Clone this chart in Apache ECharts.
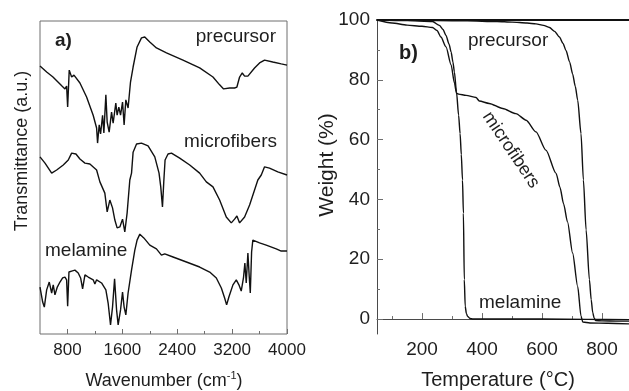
<!DOCTYPE html>
<html>
<head>
<meta charset="utf-8">
<script src="https://cdn.jsdelivr.net/npm/echarts@6/dist/echarts.min.js"></script>
<style>
  html, body { margin: 0; padding: 0; background: #fff; }
  #chart { width: 629px; height: 391px; }
</style>
</head>
<body>
<div id="chart"></div>
<script>
// ---- a) FTIR spectra, transmittance in arbitrary units (0-100 of the frame) ----
const precursorWn = [400, 497, 589, 720, 764, 788, 803, 826, 861, 895, 982, 1079, 1175, 1225, 1239, 1263, 1283, 1312, 1331, 1360, 1379, 1408, 1443, 1466, 1505, 1524, 1549, 1574, 1603, 1626, 1651, 1684, 1719, 1757, 1815, 1879, 1927, 2000, 2097, 2243, 2484, 2727, 2921, 3018, 3076, 3164, 3236, 3270, 3309, 3348, 3382, 3430, 3527, 3600, 3673, 3793, 3916, 4000];
const precursorT = [85.6, 83.7, 82.1, 79.2, 78.3, 79.2, 72.5, 84.3, 82.1, 82.7, 80.2, 75.7, 69.9, 65.8, 61.0, 66.8, 63.9, 69.9, 64.2, 76.4, 67.7, 64.5, 70.9, 67.4, 73.8, 69.9, 72.5, 69.9, 74.1, 66.8, 74.8, 72.2, 80.5, 85.3, 91.7, 94.6, 94.9, 93.3, 91.4, 89.8, 87.5, 85.0, 82.1, 79.6, 78.3, 78.6, 78.6, 78.9, 82.1, 83.4, 82.4, 82.4, 85.0, 86.6, 87.5, 86.9, 86.3, 85.9];

const microWn = [400, 473, 570, 643, 739, 812, 861, 924, 982, 1055, 1127, 1225, 1273, 1297, 1345, 1379, 1418, 1457, 1491, 1524, 1564, 1603, 1636, 1670, 1709, 1734, 1757, 1807, 1879, 1975, 2073, 2135, 2160, 2185, 2204, 2223, 2266, 2316, 2436, 2582, 2727, 2824, 2921, 3018, 3115, 3188, 3236, 3270, 3309, 3382, 3455, 3527, 3575, 3625, 3673, 3745, 3866, 4000];
const microT = [56.6, 54.6, 51.4, 52.4, 54.0, 55.6, 57.8, 57.5, 55.9, 54.6, 54.3, 52.4, 48.6, 49.2, 45.0, 39.0, 42.8, 40.3, 36.4, 33.9, 34.2, 36.7, 32.6, 38.7, 49.2, 51.4, 58.1, 60.7, 61.0, 60.1, 56.6, 51.4, 47.0, 40.6, 48.6, 55.6, 57.5, 57.8, 56.2, 54.0, 51.4, 48.6, 47.0, 42.8, 37.4, 35.5, 36.7, 37.7, 35.5, 37.4, 41.2, 46.0, 49.2, 50.8, 53.4, 53.0, 51.8, 50.8];

const melamineWn = [400, 439, 463, 497, 535, 570, 593, 618, 652, 691, 730, 764, 788, 803, 822, 861, 909, 957, 992, 1021, 1055, 1103, 1175, 1200, 1225, 1297, 1360, 1393, 1428, 1457, 1487, 1516, 1539, 1574, 1603, 1626, 1651, 1684, 1734, 1782, 1815, 1855, 1913, 2000, 2097, 2170, 2218, 2339, 2534, 2727, 2873, 2970, 3043, 3091, 3120, 3153, 3212, 3261, 3299, 3333, 3367, 3386, 3406, 3430, 3450, 3465, 3484, 3502, 3527, 3600, 3697, 3843, 3916, 4000];
const melamineT = [15.0, 10.2, 8.6, 14.1, 16.6, 13.1, 15.7, 12.5, 15.0, 16.6, 17.9, 18.2, 17.3, 8.9, 19.8, 20.1, 20.4, 19.5, 17.9, 14.4, 18.9, 18.2, 17.3, 16.0, 17.3, 16.3, 14.1, 9.9, 2.9, 8.6, 17.6, 7.7, 2.9, 7.7, 13.4, 8.6, 6.1, 13.1, 20.4, 26.8, 30.0, 31.9, 30.7, 28.4, 27.2, 25.2, 25.6, 24.6, 23.0, 21.4, 19.8, 17.9, 14.7, 11.5, 9.3, 11.8, 15.7, 17.3, 15.7, 13.7, 18.2, 22.7, 16.3, 25.9, 18.2, 13.1, 26.2, 30.0, 30.0, 29.1, 28.4, 27.2, 26.5, 26.5];

const ftirMajorTicks = [800, 1600, 2400, 3200, 4000];
const ftirMinorTicks = [1200, 2000, 2800, 3600];

// ---- b) TGA, weight (%) vs temperature (°C) ----
const tgaPrecursorTemp = [50, 150, 250, 350, 450, 500, 550, 580, 605, 625, 642, 658, 670, 680, 692, 702, 711, 719, 730, 738, 747, 758, 764, 769, 774, 779, 800, 850, 890];
const tgaPrecursorW = [100, 99.9, 99.8, 99.7, 99.5, 99.3, 99.0, 98.7, 98.2, 97.5, 96.2, 94.3, 92.2, 89.8, 86.0, 82.0, 77.8, 73.2, 62.0, 46.5, 29.8, 13.2, 6.5, 2.2, 0.3, -0.5, -0.6, -0.7, -0.7];

const tgaMicroTemp = [50, 100, 150, 200, 235, 250, 263, 280, 297, 308, 315, 322, 347, 380, 391, 424, 469, 513, 547, 580, 613, 647, 660, 672, 685, 702, 719, 730, 736, 760, 820, 890];
const tgaMicroW = [100, 99.0, 98.3, 97.9, 97.5, 96.5, 94.3, 91.0, 85.0, 79.0, 75.5, 75.2, 74.8, 74.1, 72.9, 72.1, 70.4, 68.7, 66.5, 62.6, 56.5, 48.7, 44.0, 38.5, 32.5, 22.1, 10.9, 1.0, -1.0, -1.3, -1.4, -1.6];

const tgaMelamineTemp = [50, 150, 235, 258, 270, 280, 290, 297, 303, 308, 315, 322, 327, 331, 335, 338, 341, 344, 348, 352, 360, 370, 450, 600, 750, 890];
const tgaMelamineW = [100, 99.8, 99.5, 98.2, 96.8, 94.8, 92.0, 89.3, 86.0, 82.6, 75.9, 68.2, 62.0, 55.0, 46.5, 35.4, 13.2, 4.3, 1.8, 0.9, 0.2, 0, 0, 0, -0.1, -0.2];

const tgaMajorTicksX = [200, 400, 600, 800];
const tgaMinorTicksX = [100, 300, 500, 700];
const tgaMajorTicksY = [0, 20, 40, 60, 80, 100];
const tgaMinorTicksY = [10, 30, 50, 70, 90];

const FONT = '"Liberation Sans", Arial, sans-serif';
const INK = '#1e1e1e';
const FRAME = '#6e6e6e';

const zip = (xs, ys) => xs.map((x, i) => [x, ys[i]]);

const chart = echarts.init(document.getElementById('chart'));

function tickAxis(gridIndex, position, min, max, values, len, withLabels, fontSize, margin) {
  return {
    type: 'value',
    gridIndex,
    position,
    min,
    max,
    axisLine: { show: false },
    splitLine: { show: false },
    axisTick: {
      show: true,
      inside: true,
      length: len,
      customValues: values,
      lineStyle: { color: FRAME, width: 1 }
    },
    axisLabel: withLabels ? {
      show: true,
      customValues: values,
      formatter: v => String(v),
      fontSize,
      fontFamily: FONT,
      color: INK,
      margin
    } : { show: false }
  };
}

function text(x, y, str, opts) {
  return {
    type: 'text',
    x,
    y,
    rotation: opts.rotation || 0,
    style: {
      text: str,
      fontSize: opts.size || 19,
      fontFamily: FONT,
      fontWeight: opts.bold ? 'bold' : 'normal',
      fill: INK,
      align: opts.align || 'left',
      verticalAlign: 'middle',
      rich: opts.rich
    }
  };
}

const lineStyle = { color: '#111', width: 1.4 };

const bAxisLine = { show: true, lineStyle: { color: '#4a4a4a', width: 1 } };

chart.setOption({
  animation: false,
  grid: [
    { left: 40, top: 21, width: 247, height: 313, show: true, borderColor: FRAME, borderWidth: 1, outerBoundsMode: 'none' },
    { left: 377, top: 20, width: 252, height: 314, outerBoundsMode: 'none' }
  ],
  xAxis: [
    tickAxis(0, 'bottom', 400, 4000, ftirMajorTicks, 5, true, 17, 8),
    tickAxis(0, 'bottom', 400, 4000, ftirMinorTicks, 3, false),
    Object.assign(tickAxis(1, 'bottom', 50, 890, tgaMajorTicksX, 6, true, 19, 6), { axisLine: bAxisLine }),
    tickAxis(1, 'bottom', 50, 890, tgaMinorTicksX, 3, false),
    {
      type: 'value', gridIndex: 1, min: 50, max: 890, position: 'top',
      axisLine: { show: true, lineStyle: { color: '#111', width: 2 } },
      axisTick: { show: false }, axisLabel: { show: false }, splitLine: { show: false }
    }
  ],
  yAxis: [
    { type: 'value', gridIndex: 0, min: 0, max: 100, show: false, splitLine: { show: false } },
    Object.assign(tickAxis(1, 'left', -5, 100, tgaMajorTicksY, 6, true, 19, 7), { axisLine: bAxisLine }),
    tickAxis(1, 'left', -5, 100, tgaMinorTicksY, 3, false)
  ],
  series: [
    { name: 'precursor', type: 'line', xAxisIndex: 0, yAxisIndex: 0, showSymbol: false, lineStyle, data: zip(precursorWn, precursorT) },
    { name: 'microfibers', type: 'line', xAxisIndex: 0, yAxisIndex: 0, showSymbol: false, lineStyle, data: zip(microWn, microT) },
    { name: 'melamine', type: 'line', xAxisIndex: 0, yAxisIndex: 0, showSymbol: false, lineStyle, data: zip(melamineWn, melamineT) },
    { name: 'precursor TGA', type: 'line', xAxisIndex: 2, yAxisIndex: 1, showSymbol: false, smooth: 0.25, smoothMonotone: 'x', lineStyle, data: zip(tgaPrecursorTemp, tgaPrecursorW) },
    { name: 'microfibers TGA', type: 'line', xAxisIndex: 2, yAxisIndex: 1, showSymbol: false, smooth: 0.25, smoothMonotone: 'x', lineStyle, data: zip(tgaMicroTemp, tgaMicroW) },
    { name: 'melamine TGA', type: 'line', xAxisIndex: 2, yAxisIndex: 1, showSymbol: false, smooth: 0.25, smoothMonotone: 'x', lineStyle, data: zip(tgaMelamineTemp, tgaMelamineW) }
  ],
  graphic: [
    // panel a
    text(55, 41, 'a)', { bold: true }),
    text(276, 37, 'precursor', { align: 'right' }),
    text(277, 142, 'microfibers', { align: 'right' }),
    text(45, 251, 'melamine', {}),
    text(164, 381, 'Wavenumber (cm{sup|-1})', {
      align: 'center', size: 18,
      rich: { sup: { fontSize: 11, fontFamily: FONT, fill: INK, padding: [0, 0, 10, 0] } }
    }),
    text(22, 151, 'Transmittance (a.u.)', { align: 'center', size: 18, rotation: Math.PI / 2 }),
    // panel b
    text(399, 53, 'b)', { bold: true, size: 20 }),
    text(468, 41, 'precursor', {}),
    text(511, 150, 'microfibers', { align: 'center', size: 18, rotation: -0.98 }),
    text(479, 303, 'melamine', {}),
    text(498, 380, 'Temperature (°C)', { align: 'center', size: 20 }),
    text(327, 165, 'Weight (%)', { align: 'center', size: 21, rotation: Math.PI / 2 })
  ]
});
</script>
</body>
</html>
